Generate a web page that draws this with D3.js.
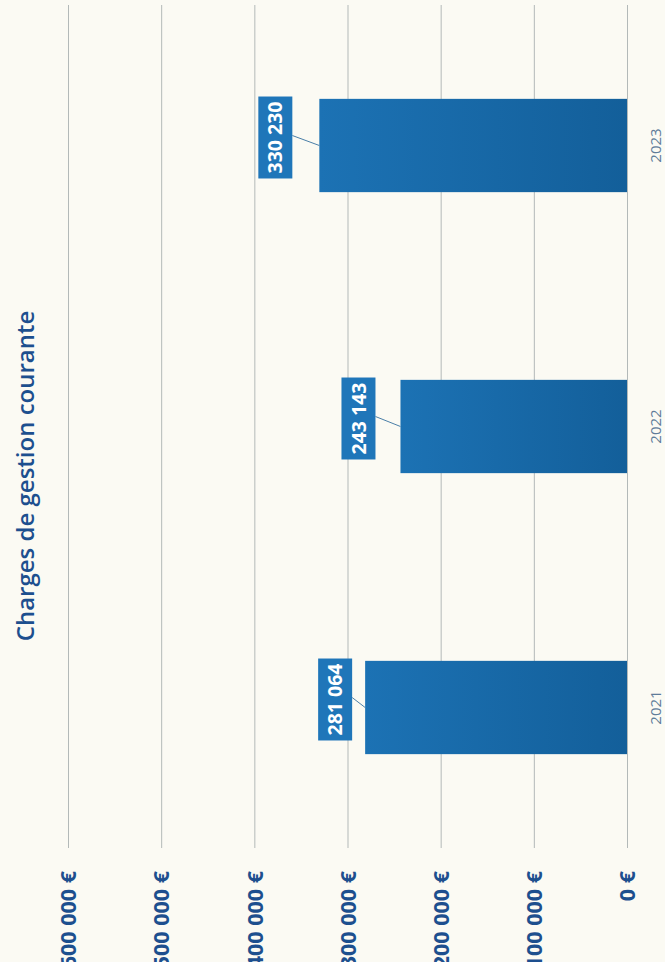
<!DOCTYPE html>
<html>
<head>
<meta charset="utf-8">
<script src="https://cdn.jsdelivr.net/npm/d3@7"></script>
<style>
  html, body { margin: 0; padding: 0; background: #fbfaf3; overflow: hidden; }
  svg { display: block; }
</style>
</head>
<body>
<script>
// Charges de gestion courante, 2021-2023 (page turned a quarter: value axis runs right to left)
const years = ["2021", "2022", "2023"];
const charges = [281064, 243143, 330230];
const tickValues = [0, 100000, 200000, 300000, 400000, 500000, 600000];
const title = "Charges de gestion courante";

// hand-placed callout nudges (px), one per year
const calloutGap = [30, 42, 44];

const W = 665, H = 962;
const svg = d3.select("body").append("svg").attr("width", W).attr("height", H);

const defs = svg.append("defs");
const grad = defs.append("linearGradient").attr("id", "barFill")
  .attr("x1", "0").attr("x2", "1").attr("y1", "0").attr("y2", "0");
grad.append("stop").attr("offset", "0%").attr("stop-color", "#1c72b4");
grad.append("stop").attr("offset", "100%").attr("stop-color", "#135f9a");

svg.append("rect").attr("width", W).attr("height", H).attr("fill", "#fbfaf3");

const gridTop = 5, gridBottom = 848;
const x = d3.scaleLinear().domain([0, 600000]).range([627, 68]);
const y = d3.scaleBand().domain(years.slice().reverse())
  .range([gridTop, gridBottom]).paddingInner(0.668).paddingOuter(0.334);

const fmt = v => d3.format(",")(v).replace(/,/g, " ");

// value axis + gridlines
const axis = d3.axisBottom(x).tickValues(tickValues)
  .tickSize(-(gridBottom - gridTop)).tickPadding(0)
  .tickFormat(v => fmt(v) + " €");
const gAxis = svg.append("g").attr("transform", `translate(0,${gridBottom})`).call(axis);
gAxis.select(".domain").remove();
gAxis.selectAll(".tick line").attr("stroke", "#b3b9b8").attr("stroke-width", 1);
gAxis.selectAll(".tick text")
  .attr("transform", "translate(0,23) rotate(-90)")
  .attr("x", 0).attr("y", 0).attr("dy", "0.36em")
  .attr("text-anchor", "end")
  .attr("fill", "#1d4f8e")
  .attr("font-family", "'Open Sans', sans-serif")
  .attr("font-weight", 700)
  .attr("font-size", 21.5);

// bars
const data = years.map((yr, i) => ({ year: yr, value: charges[i], gap: calloutGap[i] }));
svg.append("g").selectAll("rect").data(data).join("rect")
  .attr("x", d => x(d.value))
  .attr("y", d => y(d.year))
  .attr("width", d => x(0) - x(d.value))
  .attr("height", y.bandwidth())
  .attr("fill", "url(#barFill)");

// category labels
svg.append("g").selectAll("text").data(data).join("text")
  .attr("transform", d => `translate(656,${y(d.year) + y.bandwidth() / 2}) rotate(-90)`)
  .attr("text-anchor", "middle").attr("dy", "0.35em")
  .attr("fill", "#5f7c99")
  .attr("font-family", "'Open Sans', sans-serif")
  .attr("font-size", 15)
  .text(d => d.year);

// value callouts with leader lines
const boxW = 34;
const callouts = svg.append("g").selectAll("g").data(data).join("g");
callouts.each(function(d) {
  const g = d3.select(this);
  const cx = x(d.value) - d.gap;
  const cy = y(d.year) + y.bandwidth() / 2 - 8;
  const txt = g.append("text")
    .attr("transform", `translate(${cx},${cy}) rotate(-90)`)
    .attr("text-anchor", "middle").attr("dy", "0.36em")
    .attr("fill", "#ffffff")
    .attr("font-family", "'Open Sans', sans-serif")
    .attr("font-weight", 700)
    .attr("font-size", 19.5)
    .text(fmt(d.value));
  const len = txt.node().getComputedTextLength();
  const boxH = len + 10;
  g.insert("rect", "text")
    .attr("x", cx - boxW / 2).attr("y", cy - boxH / 2)
    .attr("width", boxW).attr("height", boxH)
    .attr("fill", "#1f76b9");
  g.append("line")
    .attr("x1", cx + boxW / 2).attr("y1", cy - 2)
    .attr("x2", x(d.value)).attr("y2", y(d.year) + y.bandwidth() / 2)
    .attr("stroke", "#4a7fa8").attr("stroke-width", 1);
});

// title
svg.append("text")
  .attr("transform", "translate(26,476) rotate(-90)")
  .attr("text-anchor", "middle").attr("dy", "0.35em")
  .attr("fill", "#1d4f8e")
  .attr("font-family", "'Open Sans', sans-serif")
  .attr("font-weight", 600)
  .attr("font-size", 24)
  .text(title);
</script>
</body>
</html>
